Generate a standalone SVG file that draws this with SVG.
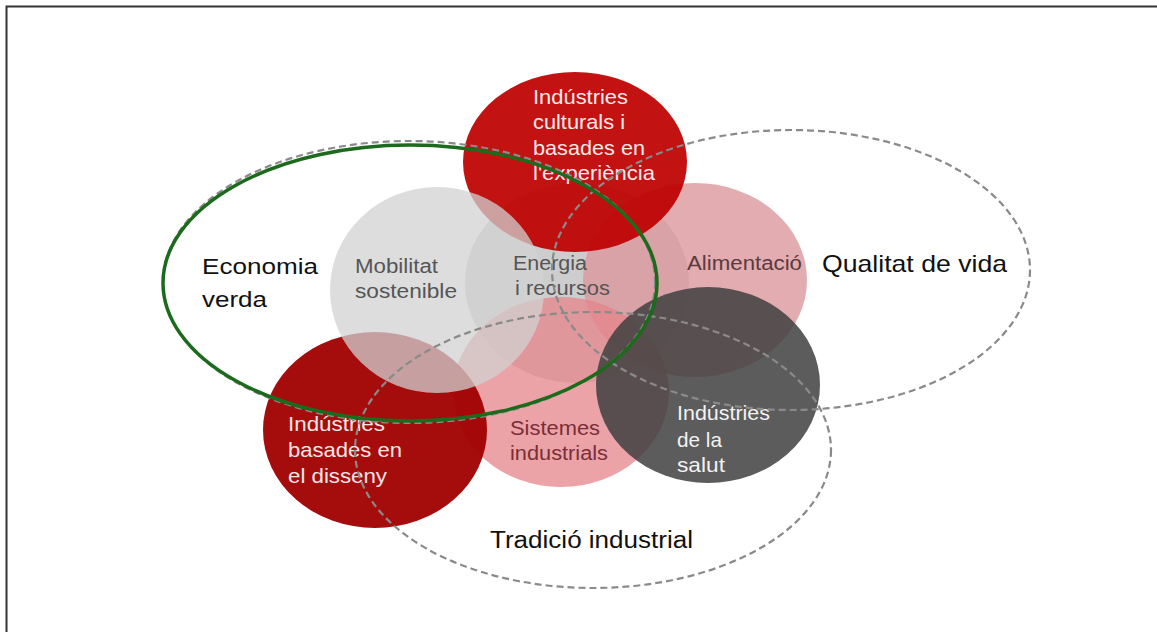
<svg xmlns="http://www.w3.org/2000/svg" width="1157" height="632" viewBox="0 0 1157 632">
<style>
text{font-family:"Liberation Sans",Arial,sans-serif;lengthAdjust:spacingAndGlyphs}
.s{font-size:20px}
.m{font-size:21px}
.big{font-size:23px;fill:#111}
.dash{fill:none;stroke:#8a8a8a;stroke-width:2.2;stroke-dasharray:7 4}
</style>
<rect width="1157" height="632" fill="#fff"/>
<path d="M6.5 632V6.5H1157" fill="none" stroke="#333" stroke-width="2"/>
<g id="energia">
<ellipse cx="577" cy="283" rx="112" ry="100" fill="#c0c0c0" fill-opacity="0.8"/>
</g>
<g id="alimentacio">
<ellipse cx="695" cy="280" rx="112" ry="97" fill="#db979c" fill-opacity="0.8"/>
</g>
<g id="culturals">
<ellipse cx="575" cy="162" rx="112" ry="90" fill="#bd0000" fill-opacity="0.93"/>
</g>
<g id="sistemes">
<ellipse cx="561" cy="392" rx="108" ry="95" fill="#e68489" fill-opacity="0.75"/>
</g>
<g id="disseny">
<ellipse cx="375" cy="430" rx="112" ry="98" fill="#a00000" fill-opacity="0.95"/>
</g>
<g id="mobilitat">
<ellipse cx="437" cy="290" rx="107" ry="103" fill="#d2d2d2" fill-opacity="0.75"/>
</g>
<g id="salut">
<ellipse cx="708" cy="385" rx="112" ry="98" fill="#3f3f3f" fill-opacity="0.85"/>
</g>
<g id="labels">
<g fill="#fbeaea" class="m">
<text x="533" y="104" textLength="95" lengthAdjust="spacingAndGlyphs">Indústries</text>
<text x="533" y="129" textLength="92" lengthAdjust="spacingAndGlyphs">culturals i</text>
<text x="533" y="155" textLength="112" lengthAdjust="spacingAndGlyphs">basades en</text>
<text x="533" y="180" textLength="122" lengthAdjust="spacingAndGlyphs">l'experiència</text>
</g>
<g fill="#555" class="s">
<text x="355" y="273" textLength="83" lengthAdjust="spacingAndGlyphs">Mobilitat</text>
<text x="355" y="298" textLength="102" lengthAdjust="spacingAndGlyphs">sostenible</text>
<text x="513" y="270" textLength="74" lengthAdjust="spacingAndGlyphs">Energia</text>
<text x="515" y="295" textLength="95" lengthAdjust="spacingAndGlyphs">i recursos</text>
</g>
<text x="687" y="270" class="s" fill="#5b3a40" textLength="115" lengthAdjust="spacingAndGlyphs">Alimentació</text>
<g fill="#7a2e38" class="s">
<text x="510" y="435" textLength="90" lengthAdjust="spacingAndGlyphs">Sistemes</text>
<text x="510" y="460" textLength="98" lengthAdjust="spacingAndGlyphs">industrials</text>
</g>
<g fill="#f6e6e6" class="m">
<text x="288" y="431" textLength="97" lengthAdjust="spacingAndGlyphs">Indústries</text>
<text x="288" y="457" textLength="114" lengthAdjust="spacingAndGlyphs">basades en</text>
<text x="288" y="483" textLength="99" lengthAdjust="spacingAndGlyphs">el disseny</text>
</g>
<g fill="#f2f2f2" class="m">
<text x="677" y="420" textLength="93" lengthAdjust="spacingAndGlyphs">Indústries</text>
<text x="677" y="447" textLength="45" lengthAdjust="spacingAndGlyphs">de la</text>
<text x="677" y="472" textLength="48" lengthAdjust="spacingAndGlyphs">salut</text>
</g>
</g>
<g id="connectors">
<ellipse id="qualitat-ring" class="dash" cx="791" cy="270" rx="239" ry="140"/>
<ellipse id="tradicio-ring" class="dash" cx="593" cy="450" rx="238" ry="138"/>
<ellipse id="economia-ring" class="dash" cx="409" cy="282" rx="246" ry="141"/>
<ellipse id="economia-green" cx="410" cy="283" rx="247" ry="138" fill="none" stroke="#1c6b1c" stroke-width="3.5"/>
</g>
<g id="economia-verda" class="big">
<text x="202" y="274" style="font-size:22px" textLength="116" lengthAdjust="spacingAndGlyphs">Economia</text>
<text x="202" y="307" style="font-size:22px" textLength="65" lengthAdjust="spacingAndGlyphs">verda</text>
</g>
<g id="qualitat-de-vida" class="big">
<text x="822" y="272" style="font-size:24px" textLength="185" lengthAdjust="spacingAndGlyphs">Qualitat de vida</text>
</g>
<g id="tradicio-industrial" class="big">
<text x="490" y="548" textLength="203" lengthAdjust="spacingAndGlyphs">Tradició industrial</text>
</g>
</svg>
